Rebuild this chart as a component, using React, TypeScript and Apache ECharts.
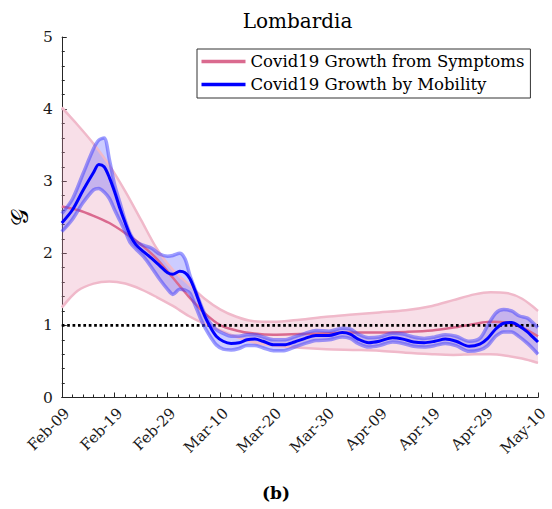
import React, { useEffect, useRef } from "react";
import * as echarts from "echarts";

const xTickLabels = ["Feb-09", "Feb-19", "Feb-29", "Mar-10", "Mar-20", "Mar-30", "Apr-09", "Apr-19", "Apr-29", "May-10"];

const symName = "Covid19 Growth from Symptoms";
const mobName = "Covid19 Growth by Mobility";

const symDays = [0, 3, 6, 9, 12, 15, 18, 21, 24, 27, 30, 33, 36, 40, 45, 50, 55, 60, 65, 70, 74, 78, 81, 84, 87, 90];
const symMid = [2.65, 2.6, 2.52, 2.42, 2.28, 2.12, 1.92, 1.66, 1.4, 1.17, 1.0, 0.93, 0.89, 0.87, 0.88, 0.89, 0.9, 0.9, 0.91, 0.93, 0.97, 1.02, 1.05, 1.04, 0.97, 0.85];
const symHigh = [4.02, 3.78, 3.52, 3.22, 2.86, 2.46, 2.06, 1.77, 1.57, 1.37, 1.22, 1.12, 1.06, 1.05, 1.08, 1.12, 1.15, 1.18, 1.21, 1.27, 1.35, 1.43, 1.46, 1.45, 1.37, 1.2];
const symLow = [1.25, 1.48, 1.58, 1.61, 1.58, 1.5, 1.39, 1.27, 1.13, 1.02, 0.93, 0.84, 0.77, 0.72, 0.69, 0.67, 0.66, 0.65, 0.62, 0.6, 0.59, 0.6, 0.6, 0.58, 0.54, 0.48];

const mobDays = [0, 2, 4, 6, 7, 8, 9, 10, 11, 12, 13, 14, 15.5, 17, 18.5, 20, 21, 22.3, 23.3, 24.2, 25.2, 26.2, 27.2, 28.2, 29.2, 30.5, 32, 33.5, 35, 36.5, 38, 40, 42, 44, 46, 48, 50.5, 53, 54.5, 56, 58, 60, 62.5, 64.5, 66.5, 68.5, 70.5, 72.5, 74.5, 77, 79, 80.5, 82, 83.5, 85, 86.5, 88, 89, 90];
const mobMid = [2.42, 2.6, 2.87, 3.12, 3.23, 3.2, 3.05, 2.85, 2.62, 2.42, 2.24, 2.12, 2.02, 1.93, 1.83, 1.73, 1.71, 1.75, 1.73, 1.65, 1.48, 1.28, 1.1, 0.96, 0.85, 0.78, 0.75, 0.76, 0.8, 0.81, 0.78, 0.73, 0.73, 0.77, 0.82, 0.86, 0.86, 0.9, 0.88, 0.81, 0.76, 0.78, 0.83, 0.81, 0.77, 0.76, 0.78, 0.81, 0.78, 0.71, 0.74, 0.82, 0.95, 1.03, 1.04, 0.99, 0.91, 0.84, 0.77];
const mobHigh = [2.55, 2.75, 3.1, 3.45, 3.57, 3.6, 3.3, 2.95, 2.7, 2.45, 2.26, 2.16, 2.11, 2.07, 1.99, 1.96, 1.97, 2.0, 1.92, 1.7, 1.5, 1.3, 1.13, 1.02, 0.94, 0.89, 0.85, 0.85, 0.87, 0.87, 0.84, 0.8, 0.8, 0.84, 0.89, 0.93, 0.92, 0.96, 0.95, 0.88, 0.83, 0.84, 0.89, 0.88, 0.84, 0.82, 0.84, 0.87, 0.85, 0.78, 0.82, 1.0, 1.17, 1.22, 1.2, 1.13, 1.1, 1.04, 0.97];
const mobLow = [2.3, 2.47, 2.7, 2.88, 2.9, 2.85, 2.76, 2.6, 2.45, 2.3, 2.14, 2.06, 1.95, 1.8, 1.64, 1.5, 1.43, 1.5, 1.49, 1.45, 1.28, 1.1, 0.95, 0.83, 0.73, 0.67, 0.66, 0.68, 0.72, 0.72, 0.69, 0.65, 0.65, 0.7, 0.75, 0.79, 0.8, 0.84, 0.82, 0.75, 0.7, 0.72, 0.77, 0.75, 0.71, 0.7, 0.72, 0.75, 0.72, 0.64, 0.66, 0.72, 0.85, 0.91, 0.91, 0.84, 0.75, 0.68, 0.6];

const thresholdDays = [0, 90];
const thresholdValue = 1;

const FONT = "DejaVu Serif";

const pairs = (days: number[], vals: number[]) => days.map((d, i) => [d, vals[i]]);

function bandSeries(days: number[], low: number[], high: number[], fill: string) {
  return {
    type: "custom",
    coordinateSystem: "cartesian2d",
    silent: true,
    clip: true,
    data: [[days[0], low[0]]],
    encode: { x: 0, y: 1 },
    renderItem: (_params: any, api: any) => {
      const lowPts = days.map((d, i) => api.coord([d, low[i]]));
      const highPts = days.map((d, i) => api.coord([d, high[i]])).reverse();
      const tl = api.coord([0, 5]);
      const br = api.coord([90, 0]);
      return {
        type: "polygon",
        shape: { points: lowPts.concat(highPts), smooth: 0.3, smoothConstraint: [tl, br] },
        style: { fill, stroke: "none" },
      };
    },
  };
}

function lineSeries(name: string | undefined, days: number[], vals: number[], color: string, width: number) {
  return {
    type: "line",
    name,
    data: pairs(days, vals),
    smooth: 0.3,
    symbol: "none",
    silent: true,
    itemStyle: { color },
    lineStyle: { color, width },
  };
}

const option: any = {
  animation: false,
  backgroundColor: "#fff",
  grid: { left: 56, right: 14, top: 37, bottom: 111.5 },
  legend: {
    data: [symName, mobName],
    orient: "vertical",
    left: 197,
    top: 49,
    padding: [4, 6, 5, 4.5],
    itemGap: 6,
    itemWidth: 44,
    itemHeight: 3.5,
    icon: "rect",
    borderColor: "#333",
    borderWidth: 1,
    borderRadius: 0,
    backgroundColor: "#fff",
    textStyle: { fontFamily: FONT, fontSize: 16.5, color: "#000" },
  },
  xAxis: {
    type: "value",
    min: 0,
    max: 90,
    interval: 10,
    axisLine: { show: true, lineStyle: { color: "#262626", width: 1 } },
    axisTick: { show: true, inside: true, length: 5, lineStyle: { color: "#262626" } },
    minorTick: { show: true, splitNumber: 5, length: 3, lineStyle: { color: "#262626" } },
    splitLine: { show: false },
    minorSplitLine: { show: false },
    axisLabel: {
      rotate: 45,
      margin: 8,
      verticalAlign: "top",
      fontFamily: FONT,
      fontSize: 15,
      color: "#1a1a1a",
      formatter: (v: number) => xTickLabels[Math.round(v / 10)] ?? "",
    },
  },
  yAxis: {
    type: "value",
    min: 0,
    max: 5,
    interval: 1,
    name: "𝒢",
    nameLocation: "middle",
    nameRotate: 90,
    nameGap: 29,
    nameTextStyle: { fontFamily: FONT, fontSize: 24, color: "#000" },
    axisLine: { show: true, lineStyle: { color: "#262626", width: 1 } },
    axisTick: { show: true, inside: true, length: 5, lineStyle: { color: "#262626" } },
    minorTick: { show: true, splitNumber: 5, length: 3, lineStyle: { color: "#262626" } },
    splitLine: { show: false },
    minorSplitLine: { show: false },
    axisLabel: { margin: 9, fontFamily: FONT, fontSize: 15.5, color: "#1a1a1a" },
  },
  graphic: [
    {
      type: "text",
      x: 297.5,
      y: 21,
      style: { text: "Lombardia", font: "20px DejaVu Serif", fill: "#000", align: "center", verticalAlign: "middle" },
    },
    {
      type: "text",
      x: 276,
      y: 493,
      style: { text: "(b)", font: "bold 17px DejaVu Serif", fill: "#000", align: "center", verticalAlign: "middle" },
    },
  ],
  series: [
    bandSeries(symDays, symLow, symHigh, "rgba(232,150,178,0.3)"),
    lineSeries(undefined, symDays, symLow, "#f0b9ca", 2.5),
    lineSeries(undefined, symDays, symHigh, "#f0b9ca", 2.5),
    lineSeries(symName, symDays, symMid, "#da6a8f", 2.5),
    bandSeries(mobDays, mobLow, mobHigh, "rgba(40,40,255,0.24)"),
    {
      type: "line",
      data: pairs(thresholdDays, [thresholdValue, thresholdValue]),
      symbol: "none",
      silent: true,
      lineStyle: { color: "#000", width: 2.7, type: [2.7, 2.7] },
    },
    lineSeries(undefined, mobDays, mobLow, "rgba(60,60,255,0.5)", 3.5),
    lineSeries(undefined, mobDays, mobHigh, "rgba(60,60,255,0.5)", 3.5),
    lineSeries(mobName, mobDays, mobMid, "#0000ff", 3),
  ],
};

export default function App() {
  const ref = useRef<HTMLDivElement>(null);
  useEffect(() => {
    const chart = echarts.init(ref.current!, null, { renderer: "svg" });
    chart.setOption(option);
    return () => chart.dispose();
  }, []);
  return (
    <div
      ref={ref}
      style={{ position: "fixed", left: 0, top: 0, width: 552, height: 509, background: "#fff" }}
    />
  );
}
